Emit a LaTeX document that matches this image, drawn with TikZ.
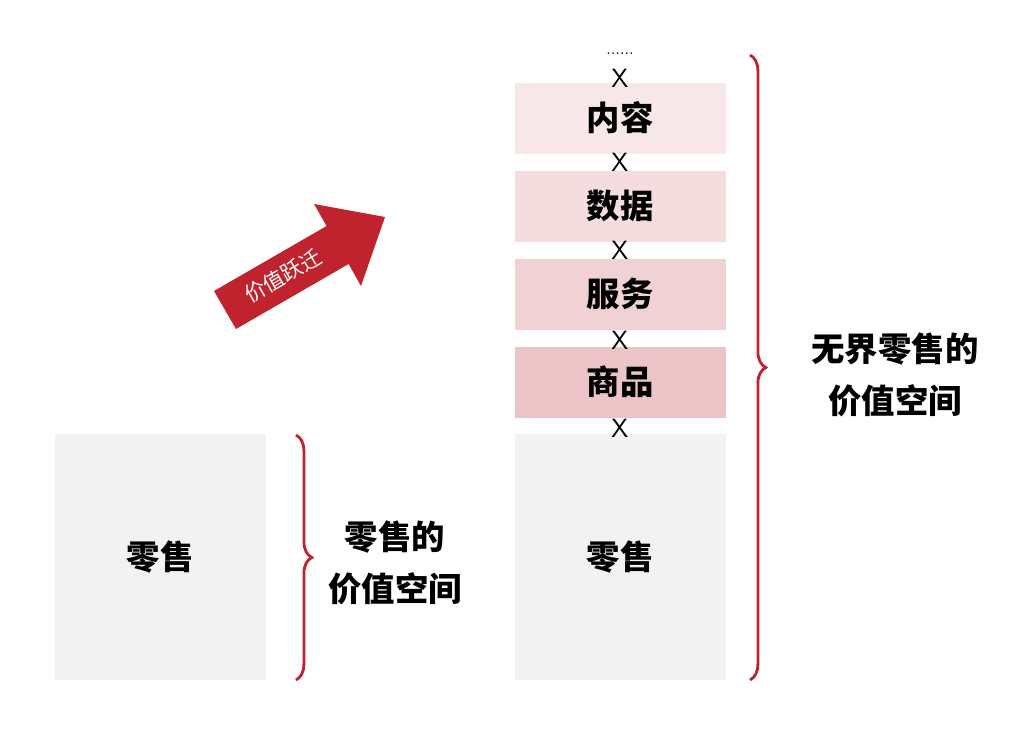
\documentclass[tikz,border=0pt]{standalone}
\usepackage{fontspec}
\newfontfamily\cjk{Noto Sans CJK SC}
\usetikzlibrary{positioning,decorations.pathreplacing}
\definecolor{bracered}{HTML}{C0222E}
\definecolor{graybox}{HTML}{F2F2F2}
\definecolor{pinkA}{HTML}{F8E7E8}
\definecolor{pinkB}{HTML}{F5DDDF}
\definecolor{pinkC}{HTML}{F0D1D4}
\definecolor{pinkD}{HTML}{ECC3C7}
\begin{document}
\begin{tikzpicture}[x=0.02cm,y=-0.02cm,font=\cjk\bfseries]
\tikzset{
  valbox/.style={minimum width=211*0.02cm, minimum height=71*0.02cm, inner sep=0pt, font=\cjk\bfseries\fontsize{19}{22}\selectfont},
  timesmark/.style={font=\sffamily\fontsize{15}{16}\selectfont, inner sep=0pt},
  redbrace/.style={draw=bracered, line width=1.6pt, decorate, decoration={brace, amplitude=9pt}},
  spacelabel/.style={align=center, font=\cjk\bfseries\fontsize{19}{30}\selectfont}
}
\useasboundingbox (0,0) rectangle (1028,734);
% left side
\node[valbox, fill=graybox, minimum height=246*0.02cm] (retailL) at (160,557) {零售};
\coordinate (braceLtop) at (296,435);
\coordinate (braceLbot) at (296,680);
\draw[redbrace] (braceLtop) -- (braceLbot);
\node[spacelabel] (labelL) at (395,563) {零售的\\价值空间};
% arrow
\fill[bracered] (236,329) -- (348.6,264) -- (361,286) -- (385,217) -- (314,204)
  -- (326.6,226) -- (214,291) -- cycle;
\node[rotate=30, text=white, inner sep=0pt, font=\cjk\fontsize{12}{14}\selectfont] (jump) at (283,276) {价值跃迁};
% right column
\node[valbox, fill=graybox, minimum height=246*0.02cm] (retailR) at (620,557) {零售};
\node[valbox, fill=pinkD] (goods) at (620,382) {商品};
\node[valbox, fill=pinkC] (service) at (620,294) {服务};
\node[valbox, fill=pinkB] (data) at (620,206) {数据};
\node[valbox, fill=pinkA] (content) at (620,118) {内容};
\node[timesmark] (x1) at (620,428) {X};
\node[timesmark] (x2) at (620,340) {X};
\node[timesmark] (x3) at (620,250) {X};
\node[timesmark] (x4) at (620,162) {X};
\node[timesmark] (x5) at (620,78) {X};
\node[inner sep=0pt, font=\rmfamily\small] (dots) at (620,54) {......};
\coordinate (braceRtop) at (750,55);
\coordinate (braceRbot) at (750,680);
\draw[redbrace] (braceRtop) -- (braceRbot);
\node[spacelabel] (labelR) at (895,375) {无界零售的\\价值空间};
\end{tikzpicture}
\end{document}
